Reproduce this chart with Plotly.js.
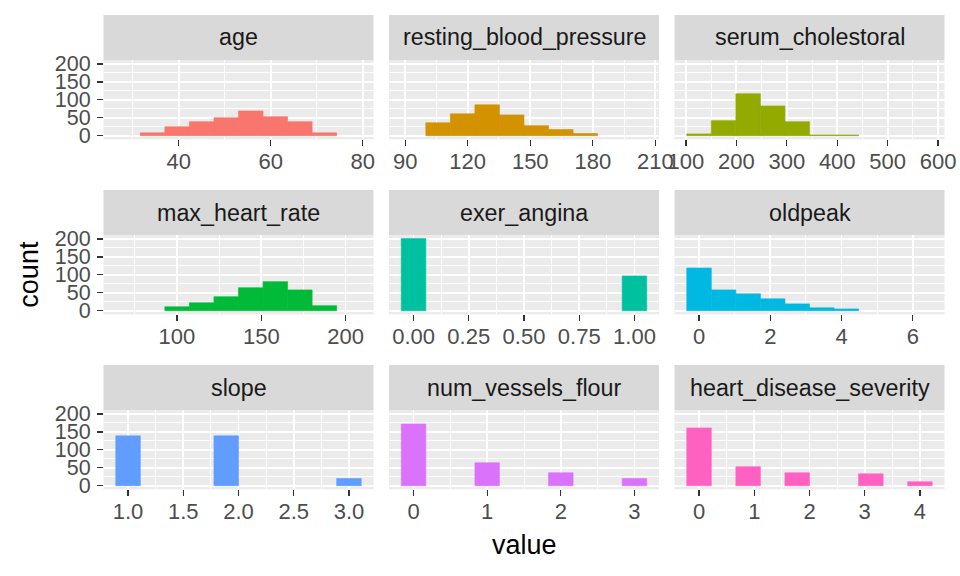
<!DOCTYPE html>
<html>
<head>
<meta charset="utf-8">
<script src="https://cdn.plot.ly/plotly-3.0.1.min.js"></script>
<style>
  html, body { margin: 0; padding: 0; background: #ffffff; }
  #chart { width: 960px; height: 576px; }
</style>
</head>
<body>
<div id="chart"></div>
<script>
// ---------- data ----------
const panelNames = ["age", "resting_blood_pressure", "serum_cholestoral",
                    "max_heart_rate", "exer_angina", "oldpeak",
                    "slope", "num_vessels_flour", "heart_disease_severity"];

// data minimum / maximum of each variable (10 bins span min..max, as in ggplot bins = 10)
const binLo = [29, 94, 126, 71, 0, 0, 1, 0, 0];
const binHi = [77, 200, 564, 202, 1, 6.2, 3, 3, 4];

// counts per bin (10 bins each)
const countsAge       = [0, 8, 25, 39, 50, 69, 53, 39, 8, 0];
const countsBP        = [0, 36, 61, 86, 58, 28, 17, 6, 0, 0];
const countsChol      = [5, 42, 117, 83, 39, 2, 2, 0, 0, 0];
const countsMaxHR     = [0, 0, 11, 22, 39, 64, 81, 58, 14, 0];
const countsAngina    = [201, 0, 0, 0, 0, 0, 0, 0, 0, 97];
const countsOldpeak   = [119, 58, 47, 33, 19, 8, 5, 0, 0, 0];
const countsSlope     = [139, 0, 0, 0, 139, 0, 0, 0, 0, 20];
const countsVessels   = [172, 0, 0, 64, 0, 0, 36, 0, 0, 20];
const countsSeverity  = [161, 0, 53, 0, 36, 0, 0, 33, 0, 11];
const allCounts = [countsAge, countsBP, countsChol, countsMaxHR, countsAngina,
                   countsOldpeak, countsSlope, countsVessels, countsSeverity];

// x tick values and labels per panel
const xTickVals = [
  [40, 60, 80],
  [90, 120, 150, 180, 210],
  [100, 200, 300, 400, 500, 600],
  [100, 150, 200],
  [0, 0.25, 0.5, 0.75, 1],
  [0, 2, 4, 6],
  [1, 1.5, 2, 2.5, 3],
  [0, 1, 2, 3],
  [0, 1, 2, 3, 4]
];
const xTickText = [
  ["40", "60", "80"],
  ["90", "120", "150", "180", "210"],
  ["100", "200", "300", "400", "500", "600"],
  ["100", "150", "200"],
  ["0.00", "0.25", "0.50", "0.75", "1.00"],
  ["0", "2", "4", "6"],
  ["1.0", "1.5", "2.0", "2.5", "3.0"],
  ["0", "1", "2", "3"],
  ["0", "1", "2", "3", "4"]
];
const yTickVals = [0, 50, 100, 150, 200];
const yTickText = ["0", "50", "100", "150", "200"];

// ---------- styling ----------
const colors = ["#F8766D", "#D39200", "#93AA00", "#00BA38", "#00C19F",
                "#00B9E3", "#619CFF", "#DB72FB", "#FF61C3"];
const W = 960, H = 576;
const colL = [103.5, 389, 674.5], colR = [373.5, 659, 944.5];
const rowTop = [60, 235, 410], rowBot = [139.3, 314.3, 489.3];
const stripH = 45;
const FONT = "Liberation Sans, Arial, Helvetica, sans-serif";

const nb = 10;
const maxCount = Math.max(...allCounts.map(a => Math.max(...a)));
const yRange = [-0.05 * maxCount, 1.05 * maxCount];

function minorFrom(ticks, range) {
  const step = ticks.length > 1 ? ticks[1] - ticks[0] : 1;
  const out = [];
  for (let v = ticks[0] - step / 2; v <= ticks[ticks.length - 1] + step; v += step) {
    if (v >= range[0] && v <= range[1]) out.push(v);
  }
  return out;
}

const traces = [];
const layout = {
  width: W, height: H,
  margin: {l: 0, r: 0, t: 0, b: 0},
  paper_bgcolor: "#ffffff",
  plot_bgcolor: "#EBEBEB",
  showlegend: false,
  font: {family: FONT},
  shapes: [],
  annotations: []
};

panelNames.forEach((name, i) => {
  const r = Math.floor(i / 3), c = i % 3;
  const lo = binLo[i], hi = binHi[i];
  const w = (hi - lo) / (nb - 1);
  const centers = allCounts[i].map((_, k) => lo + k * w);
  const span = hi - lo + w;
  const xRange = [lo - w / 2 - 0.05 * span, hi + w / 2 + 0.05 * span];
  const sfx = i === 0 ? "" : String(i + 1);

  traces.push({
    type: "bar",
    x: centers,
    y: allCounts[i],
    width: w,
    marker: {
      color: colors[i],
      line: {color: colors[i], width: allCounts[i].map(v => v > 0 ? 0.6 : 0)}
    },
    xaxis: "x" + sfx,
    yaxis: "y" + sfx,
    hoverinfo: "x+y"
  });

  layout["xaxis" + sfx] = {
    domain: [colL[c] / W, colR[c] / W],
    anchor: "y" + sfx,
    range: xRange,
    tickmode: "array",
    tickvals: xTickVals[i],
    ticktext: xTickText[i],
    tickangle: 0,
    ticks: "outside",
    ticklen: 5.5,
    tickwidth: 1.3,
    tickcolor: "#333333",
    ticklabelstandoff: -3,
    tickfont: {family: FONT, size: 22, color: "#4D4D4D"},
    showgrid: true,
    gridcolor: "#FFFFFF",
    gridwidth: 1.8,
    zeroline: false,
    showline: false,
    minor: {
      tickmode: "array",
      tickvals: minorFrom(xTickVals[i], xRange),
      showgrid: true,
      gridcolor: "#FFFFFF",
      gridwidth: 0.9,
      ticks: ""
    },
    fixedrange: true
  };

  layout["yaxis" + sfx] = {
    domain: [1 - rowBot[r] / H, 1 - rowTop[r] / H],
    anchor: "x" + sfx,
    range: yRange,
    tickmode: "array",
    tickvals: yTickVals,
    ticktext: yTickText,
    showticklabels: c === 0,
    ticks: c === 0 ? "outside" : "",
    ticklen: 5.5,
    tickwidth: 1.3,
    tickcolor: "#333333",
    ticklabelstandoff: 2,
    tickfont: {family: FONT, size: 21.5, color: "#4D4D4D"},
    showgrid: true,
    gridcolor: "#FFFFFF",
    gridwidth: 1.8,
    zeroline: false,
    showline: false,
    minor: {
      tickmode: "array",
      tickvals: [25, 75, 125, 175],
      showgrid: true,
      gridcolor: "#FFFFFF",
      gridwidth: 0.9,
      ticks: ""
    },
    fixedrange: true
  };

  // facet strip
  layout.shapes.push({
    type: "rect", xref: "paper", yref: "paper", layer: "below",
    x0: colL[c] / W, x1: colR[c] / W,
    y0: 1 - rowTop[r] / H, y1: 1 - (rowTop[r] - stripH) / H,
    fillcolor: "#D9D9D9", line: {width: 0}
  });
  layout.annotations.push({
    xref: "paper", yref: "paper",
    x: (colL[c] + colR[c]) / 2 / W,
    y: 1 - (rowTop[r] - stripH / 2) / H,
    xanchor: "center", yanchor: "middle",
    text: name, showarrow: false,
    font: {family: FONT, size: 23.3, color: "#1A1A1A"}
  });
});

// axis titles
layout.annotations.push({
  xref: "paper", yref: "paper",
  x: (colL[1] + colR[1]) / 2 / W, y: 1 - 545 / H,
  xanchor: "center", yanchor: "middle",
  text: "value", showarrow: false,
  font: {family: FONT, size: 27, color: "#000000"}
});
layout.annotations.push({
  xref: "paper", yref: "paper",
  x: 29 / W, y: 1 - ((rowTop[0] + rowBot[2]) / 2) / H,
  xanchor: "center", yanchor: "middle",
  text: "count", textangle: -90, showarrow: false,
  font: {family: FONT, size: 27, color: "#000000"}
});

Plotly.newPlot("chart", traces, layout, {displayModeBar: false, staticPlot: true});
</script>
</body>
</html>
